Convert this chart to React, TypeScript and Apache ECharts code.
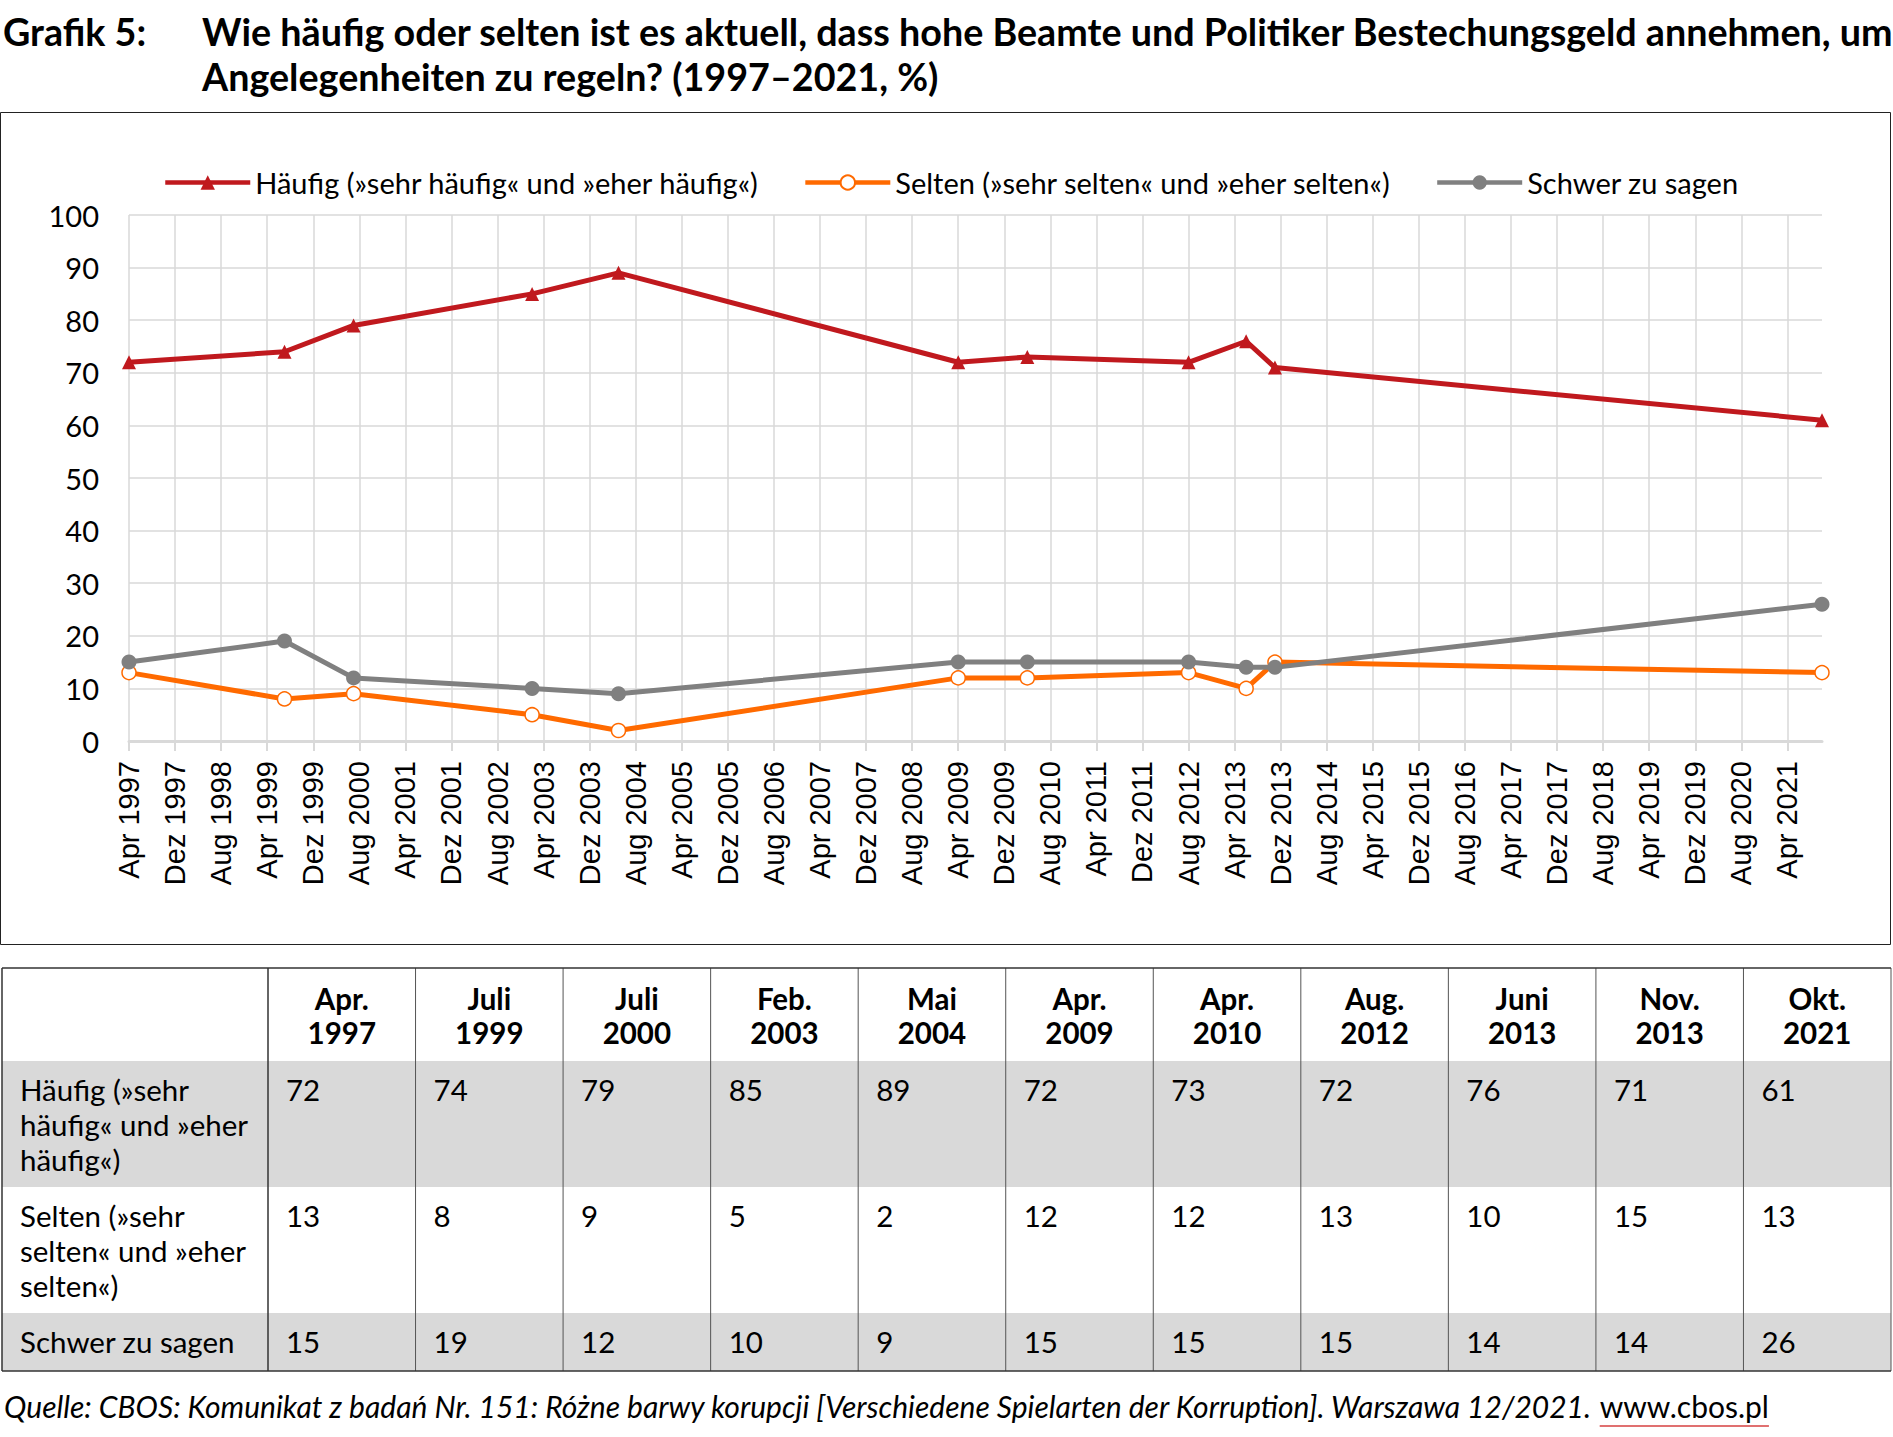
import React, { useEffect, useRef } from "react";
import * as echarts from "echarts";

// ---------- data ----------
const surveyDates = ["1997-04", "1999-07", "2000-07", "2003-02", "2004-05", "2009-04", "2010-04", "2012-08", "2013-06", "2013-11", "2021-10"];
const tableHeaders = ["Apr.\n1997", "Juli\n1999", "Juli\n2000", "Feb.\n2003", "Mai\n2004", "Apr.\n2009", "Apr.\n2010", "Aug.\n2012", "Juni\n2013", "Nov.\n2013", "Okt.\n2021"];
const haeufig = [72, 74, 79, 85, 89, 72, 73, 72, 76, 71, 61];
const selten = [13, 8, 9, 5, 2, 12, 12, 13, 10, 15, 13];
const schwer = [15, 19, 12, 10, 9, 15, 15, 15, 14, 14, 26];
const seriesNames = [
  "Häufig (»sehr häufig« und »eher häufig«)",
  "Selten (»sehr selten« und »eher selten«)",
  "Schwer zu sagen",
];
const rowLabels = [
  "Häufig (»sehr\nhäufig« und »eher\nhäufig«)",
  "Selten (»sehr\nselten« und »eher\nselten«)",
  "Schwer zu sagen",
];
const xTickLabels = [
  "Apr 1997", "Dez 1997", "Aug 1998", "Apr 1999", "Dez 1999", "Aug 2000", "Apr 2001", "Dez 2001", "Aug 2002",
  "Apr 2003", "Dez 2003", "Aug 2004", "Apr 2005", "Dez 2005", "Aug 2006", "Apr 2007", "Dez 2007", "Aug 2008",
  "Apr 2009", "Dez 2009", "Aug 2010", "Apr 2011", "Dez 2011", "Aug 2012", "Apr 2013", "Dez 2013", "Aug 2014",
  "Apr 2015", "Dez 2015", "Aug 2016", "Apr 2017", "Dez 2017", "Aug 2018", "Apr 2019", "Dez 2019", "Aug 2020",
  "Apr 2021",
];
const axisStart = "1997-04";
const axisEnd = "2021-10";
const tickStepMonths = 8;
const titleLabel = "Grafik 5:";
const titleLines = [
  "Wie häufig oder selten ist es aktuell, dass hohe Beamte und Politiker Bestechungsgeld annehmen, um",
  "Angelegenheiten zu regeln? (1997–2021, %)",
];
const sourceMain = "Quelle: CBOS: Komunikat z badań Nr. 151: Różne barwy korupcji [Verschiedene Spielarten der Korruption]. Warszawa 12/2021. ";
const sourceLink = "www.cbos.pl";

// ---------- helpers ----------
const monthIndex = (s: string) => {
  const [y, m] = s.split("-").map(Number);
  const [y0, m0] = axisStart.split("-").map(Number);
  return (y - y0) * 12 + (m - m0);
};
const xs = surveyDates.map(monthIndex);
const toPairs = (vals: number[]) => vals.map((v, i) => [xs[i], v]);

const COLORS = { red: "#C0191E", orange: "#FF6A00", gray: "#808080", grid: "#D9D9D9", rowBg: "#D9D9D9" };
const FONT = "Lato, 'Noto Sans', sans-serif";
const TABLE_FONT_SIZE = 29.5;
const TITLE_FONT = `bold 37.7px ${FONT}`;
const SOURCE_FONT = `italic 30px ${FONT}`;

function buildTable(): any[] {
  const els: any[] = [];
  const x0 = 2;
  const firstW = 266;
  const right = 1891;
  const colW = (right - x0 - firstW) / tableHeaders.length;
  const top = 968;
  const rowH = [93, 126, 126, 58];
  const rowTops: number[] = [];
  let acc = top;
  rowH.forEach((h) => {
    rowTops.push(acc);
    acc += h;
  });
  const bottom = acc;
  [1, 3].forEach((r) => {
    els.push({ type: "rect", shape: { x: x0, y: rowTops[r], width: right - x0, height: rowH[r] }, style: { fill: COLORS.rowBg }, silent: true });
  });
  for (let c = 0; c <= tableHeaders.length; c++) {
    const x = x0 + firstW + c * colW;
    els.push({ type: "line", shape: { x1: x, y1: top, x2: x, y2: bottom }, style: { stroke: c === 0 ? "#333" : "#555", lineWidth: c === 0 ? 1.5 : 1 }, silent: true });
  }
  els.push({ type: "line", shape: { x1: x0, y1: top, x2: x0, y2: bottom }, style: { stroke: "#333", lineWidth: 1.5 }, silent: true });
  els.push({ type: "line", shape: { x1: x0, y1: top, x2: right, y2: top }, style: { stroke: "#333", lineWidth: 1.5 }, silent: true });
  els.push({ type: "line", shape: { x1: x0, y1: bottom, x2: right, y2: bottom }, style: { stroke: "#333", lineWidth: 1.5 }, silent: true });
  tableHeaders.forEach((h, c) => {
    els.push({
      type: "text",
      x: x0 + firstW + c * colW + colW / 2,
      y: top + 13,
      style: { text: h, font: `bold ${TABLE_FONT_SIZE}px ${FONT}`, fill: "#000", align: "center", verticalAlign: "top", lineHeight: 34 },
      silent: true,
    });
  });
  const rows = [haeufig, selten, schwer];
  rows.forEach((vals, r) => {
    const ry = rowTops[r + 1] + 11;
    els.push({
      type: "text",
      x: x0 + 18,
      y: ry,
      style: { text: rowLabels[r], font: `${TABLE_FONT_SIZE}px ${FONT}`, fill: "#000", align: "left", verticalAlign: "top", lineHeight: 35 },
      silent: true,
    });
    vals.forEach((v, c) => {
      els.push({
        type: "text",
        x: x0 + firstW + c * colW + 18,
        y: ry,
        style: { text: String(v), font: `${TABLE_FONT_SIZE}px ${FONT}`, fill: "#000", align: "left", verticalAlign: "top", lineHeight: 35 },
        silent: true,
      });
    });
  });
  return els;
}

export default function App() {
  const ref = useRef<HTMLDivElement>(null);
  useEffect(() => {
    if (!ref.current) return;
    const chart = echarts.init(ref.current, undefined, { renderer: "svg" });
    const maxX = monthIndex(axisEnd);
    const srcX = 4;
    const srcY = 1406;
    const fmt: any = echarts.format as any;
    const mainW = fmt && fmt.getTextRect ? fmt.getTextRect(sourceMain, SOURCE_FONT)?.width : undefined;
    const linkX = srcX + (typeof mainW === "number" ? mainW : 1596);
    const linkW = typeof mainW === "number" ? (fmt.getTextRect(sourceLink, `30px ${FONT}`).width as number) : 170;
    const option: any = {
      animation: false,
      backgroundColor: "#fff",
      textStyle: { fontFamily: FONT },
      grid: { left: 129, top: 215, width: 1693, height: 526, containLabel: false },
      legend: {
        left: 158,
        top: 163,
        itemWidth: 85,
        itemHeight: 18,
        itemGap: 44,
        textStyle: { fontFamily: FONT, fontSize: 29, color: "#000" },
        lineStyle: { width: 4.5 },
        data: seriesNames,
      },
      xAxis: {
        type: "value",
        min: 0,
        max: maxX,
        interval: tickStepMonths,
        axisLine: { show: true, lineStyle: { color: COLORS.grid, width: 3 } },
        axisTick: { show: true, length: 10, lineStyle: { color: COLORS.grid, width: 2 } },
        splitLine: { show: true, showMaxLine: false, lineStyle: { color: COLORS.grid, width: 1.5 } },
        axisLabel: {
          rotate: 90,
          margin: 20,
          fontFamily: "'Liberation Sans', Arial, sans-serif",
          fontSize: 29,
          color: "#000",
          showMaxLabel: false,
          formatter: (v: number) => (v % tickStepMonths === 0 ? xTickLabels[v / tickStepMonths] ?? "" : ""),
        },
      },
      yAxis: {
        type: "value",
        min: 0,
        max: 100,
        interval: 10,
        axisLine: { show: false },
        axisTick: { show: false },
        splitLine: { show: true, lineStyle: { color: COLORS.grid, width: 1.5 } },
        axisLabel: { margin: 30, fontFamily: FONT, fontSize: 29, color: "#000" },
      },
      series: [
        {
          name: seriesNames[0],
          type: "line",
          data: toPairs(haeufig),
          symbol: "triangle",
          symbolSize: 14,
          lineStyle: { color: COLORS.red, width: 5 },
          itemStyle: { color: COLORS.red },
        },
        {
          name: seriesNames[1],
          type: "line",
          data: toPairs(selten),
          symbol: "circle",
          symbolSize: 14,
          lineStyle: { color: COLORS.orange, width: 5 },
          itemStyle: { color: "#fff", borderColor: COLORS.orange, borderWidth: 1.5 },
        },
        {
          name: seriesNames[2],
          type: "line",
          data: toPairs(schwer),
          symbol: "circle",
          symbolSize: 15,
          lineStyle: { color: COLORS.gray, width: 5 },
          itemStyle: { color: COLORS.gray },
        },
      ],
      graphic: [
        { type: "text", x: 3, y: 31, style: { text: titleLabel, font: TITLE_FONT, fill: "#000", align: "left", verticalAlign: "middle" }, silent: true },
        { type: "text", x: 202, y: 31, style: { text: titleLines[0], font: TITLE_FONT, fill: "#000", align: "left", verticalAlign: "middle" }, silent: true },
        { type: "text", x: 202, y: 76, style: { text: titleLines[1], font: TITLE_FONT, fill: "#000", align: "left", verticalAlign: "middle" }, silent: true },
        { type: "rect", shape: { x: 0.5, y: 112.5, width: 1890, height: 832 }, style: { fill: "none", stroke: "#222", lineWidth: 1 }, silent: true },
        ...buildTable(),
        { type: "text", x: srcX, y: srcY, style: { text: sourceMain, font: SOURCE_FONT, fill: "#000", align: "left", verticalAlign: "middle" }, silent: true },
        { type: "text", x: linkX, y: srcY, style: { text: sourceLink, font: `30px ${FONT}`, fill: "#000", align: "left", verticalAlign: "middle" }, silent: true },
        { type: "line", shape: { x1: linkX, y1: srcY + 20, x2: linkX + linkW, y2: srcY + 20 }, style: { stroke: "#E07070", lineWidth: 2 }, silent: true },
      ],
    };
    chart.setOption(option);
    return () => chart.dispose();
  }, []);
  return <div ref={ref} style={{ position: "absolute", left: 0, top: 0, width: 1893, height: 1437 }} />;
}
